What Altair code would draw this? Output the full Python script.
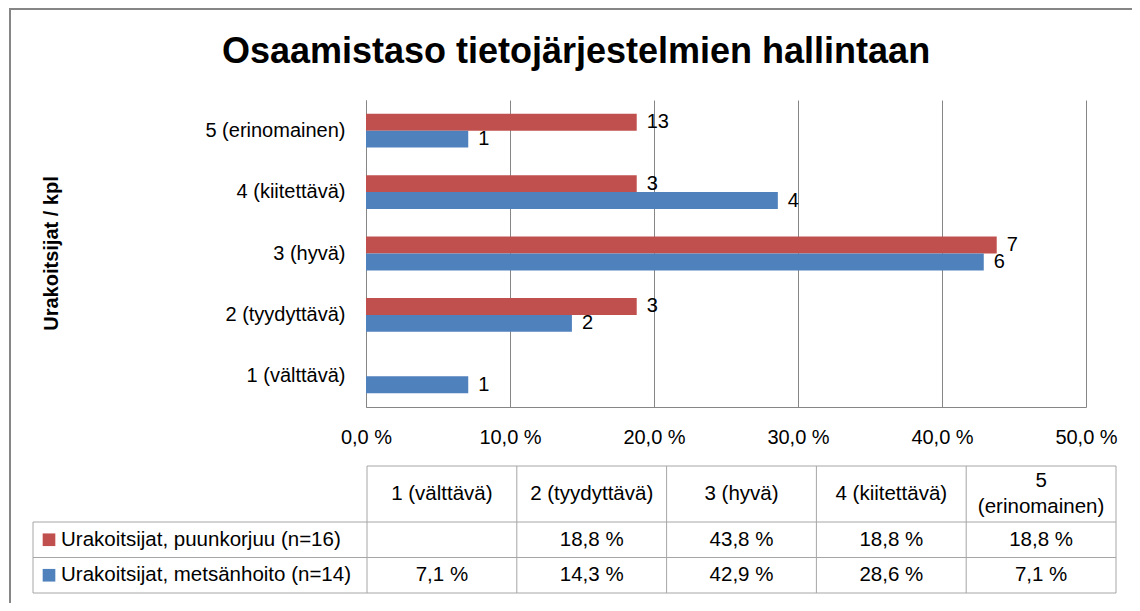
import altair as alt
import pandas as pd

# ---------------- data ----------------
categories = ["1 (välttävä)", "2 (tyydyttävä)", "3 (hyvä)", "4 (kiitettävä)", "5 (erinomainen)"]
table_headers = ["1 (välttävä)", "2 (tyydyttävä)", "3 (hyvä)", "4 (kiitettävä)", "5\n(erinomainen)"]
series_names = ["Urakoitsijat, puunkorjuu (n=16)", "Urakoitsijat, metsänhoito (n=14)"]
pct_puunkorjuu = [None, 18.8, 43.8, 18.8, 18.8]
pct_metsanhoito = [7.1, 14.3, 42.9, 28.6, 7.1]
count_puunkorjuu = [None, "3", "7", "3", "13"]
count_metsanhoito = ["1", "2", "6", "4", "1"]
x_ticks = [0, 10, 20, 30, 40, 50]
series_colors = ["#C0504D", "#4F81BD"]
title_text = "Osaamistaso tietojärjestelmien hallintaan"
y_title_text = "Urakoitsijat / kpl"

# ---------------- layout (pixels, relative to plot area origin) ----------------
W, H = 720, 307
PAD = {"left": 358, "top": 92, "right": 46, "bottom": 196}
FONT = "Liberation Sans"
GRID = "#868686"
TBL = "#a6a6a6"
T_LEFT, COL_W, LEG_LEFT = 1, 149.8, -333
T_TOP, HEAD_H, ROW_H = 366, 56, 35.5
FS_AXIS, FS_TABLE, LINE_H = 20, 20.5, 26

rows = []
for s, pcts, cnts in [(series_names[0], pct_puunkorjuu, count_puunkorjuu),
                      (series_names[1], pct_metsanhoito, count_metsanhoito)]:
    for c, p, n in zip(categories, pcts, cnts):
        if p is not None:
            rows.append({"cat": c, "series": s, "pct": p, "label": n})
df = pd.DataFrame(rows)

y_enc = alt.Y("cat:N", sort=categories[::-1],
              scale=alt.Scale(paddingInner=0.45, paddingOuter=0.225),
              axis=alt.Axis(title=None, labelFontSize=FS_AXIS, labelPadding=21, ticks=False,
                            domainColor=GRID, labelColor="#000000", labelFont=FONT))
x_enc = alt.X("pct:Q", scale=alt.Scale(domain=[0, 50], nice=False),
              axis=alt.Axis(title=None, values=x_ticks, grid=True, gridColor=GRID, ticks=False,
                            tickSize=0, domainColor=GRID, labelPadding=20, labelFontSize=FS_AXIS,
                            labelColor="#000000", labelFlush=False, labelFont=FONT,
                            labelExpr="replace(format(datum.value, '.1f'), '.', ',') + ' %'"))
yoff = alt.YOffset("series:N", sort=series_names)
color = alt.Color("series:N", scale=alt.Scale(domain=series_names, range=series_colors), legend=None)

bars = alt.Chart(df).mark_bar().encode(x=x_enc, y=y_enc, yOffset=yoff, color=color)
labels = alt.Chart(df).mark_text(align="left", dx=10, fontSize=FS_AXIS, font=FONT, color="#000000").encode(
    x=x_enc, y=y_enc, yOffset=yoff, text="label:N")
plot = alt.layer(bars, labels)

# ---------------- table ----------------
n_cols = len(categories)
row_tops = [T_TOP + HEAD_H, T_TOP + HEAD_H + ROW_H, T_TOP + HEAD_H + 2 * ROW_H]
t_right = T_LEFT + n_cols * COL_W
lines = [{"x": T_LEFT, "x2": t_right, "y": T_TOP, "y2": T_TOP}]
for yy in row_tops:
    lines.append({"x": LEG_LEFT, "x2": t_right, "y": yy, "y2": yy})
lines.append({"x": LEG_LEFT, "x2": LEG_LEFT, "y": row_tops[0], "y2": row_tops[2]})
for i in range(n_cols + 1):
    xx = T_LEFT + i * COL_W
    lines.append({"x": xx, "x2": xx, "y": T_TOP, "y2": row_tops[2]})
lines_df = pd.DataFrame(lines)

cells = []
for i, h in enumerate(table_headers):
    n_lines = h.count("\n") + 1
    cells.append({"x": T_LEFT + (i + 0.5) * COL_W,
                  "y": T_TOP + HEAD_H / 2 - (n_lines - 1) * LINE_H / 2, "t": h})
for r, pcts in enumerate([pct_puunkorjuu, pct_metsanhoito]):
    for i, p in enumerate(pcts):
        if p is not None:
            cells.append({"x": T_LEFT + (i + 0.5) * COL_W, "y": row_tops[r] + ROW_H / 2,
                          "t": f"{p:.1f}".replace(".", ",") + " %"})
cells_df = pd.DataFrame(cells)

legend_df = pd.DataFrame({
    "series": series_names,
    "y": [row_tops[0] + ROW_H / 2, row_tops[1] + ROW_H / 2],
})

NS = dict(scale=None)
table_lines = alt.Chart(lines_df).mark_rule(color=TBL, strokeWidth=1).encode(
    x=alt.X("x:Q", **NS), x2="x2:Q", y=alt.Y("y:Q", **NS), y2="y2:Q")
table_text = alt.Chart(cells_df).mark_text(fontSize=FS_TABLE, font=FONT, color="#000000",
                                           lineBreak="\n", baseline="middle", lineHeight=LINE_H).encode(
    x=alt.X("x:Q", **NS), y=alt.Y("y:Q", **NS), text="t:N")
legend_sq = alt.Chart(legend_df).mark_square(size=160, opacity=1).encode(
    x=alt.value(LEG_LEFT + 16), y=alt.Y("y:Q", **NS),
    color=alt.Color("series:N", scale=alt.Scale(domain=series_names, range=series_colors), legend=None))
legend_txt = alt.Chart(legend_df).mark_text(align="left", fontSize=FS_TABLE, font=FONT, color="#000000",
                                            baseline="middle").encode(
    x=alt.value(LEG_LEFT + 28), y=alt.Y("y:Q", **NS), text="series:N")

# ---------------- titles & frame ----------------
title = alt.Chart(pd.DataFrame({"t": [title_text]})).mark_text(
    fontSize=36, fontWeight="bold", font=FONT, color="#000000", baseline="alphabetic").encode(
    x=alt.value(210), y=alt.value(-37), text="t:N")
ytitle = alt.Chart(pd.DataFrame({"t": [y_title_text]})).mark_text(
    fontSize=20, fontWeight="bold", font=FONT, color="#000000", angle=270, baseline="middle").encode(
    x=alt.value(-314), y=alt.value(H / 2), text="t:N")
frame_top = alt.Chart(pd.DataFrame({"a": [0]})).mark_rule(color=GRID, strokeWidth=2).encode(
    x=alt.value(-PAD["left"] + 1), x2=alt.value(W + PAD["right"]), y=alt.value(-PAD["top"] + 1))
frame_left = alt.Chart(pd.DataFrame({"a": [0]})).mark_rule(color=GRID, strokeWidth=2).encode(
    x=alt.value(-PAD["left"] + 2), y=alt.value(-PAD["top"]), y2=alt.value(H + PAD["bottom"]))

chart = alt.layer(plot, table_lines, table_text, legend_sq, legend_txt, title, ytitle,
                  frame_top, frame_left).resolve_scale(
    x="independent", y="independent", color="independent"
).properties(
    width=W, height=H,
    autosize=alt.AutoSizeParams(type="none"),
    padding=PAD,
    background="white",
).configure_view(stroke=None)

chart.save("out.html", embed_options={"renderer": "svg", "actions": False})
